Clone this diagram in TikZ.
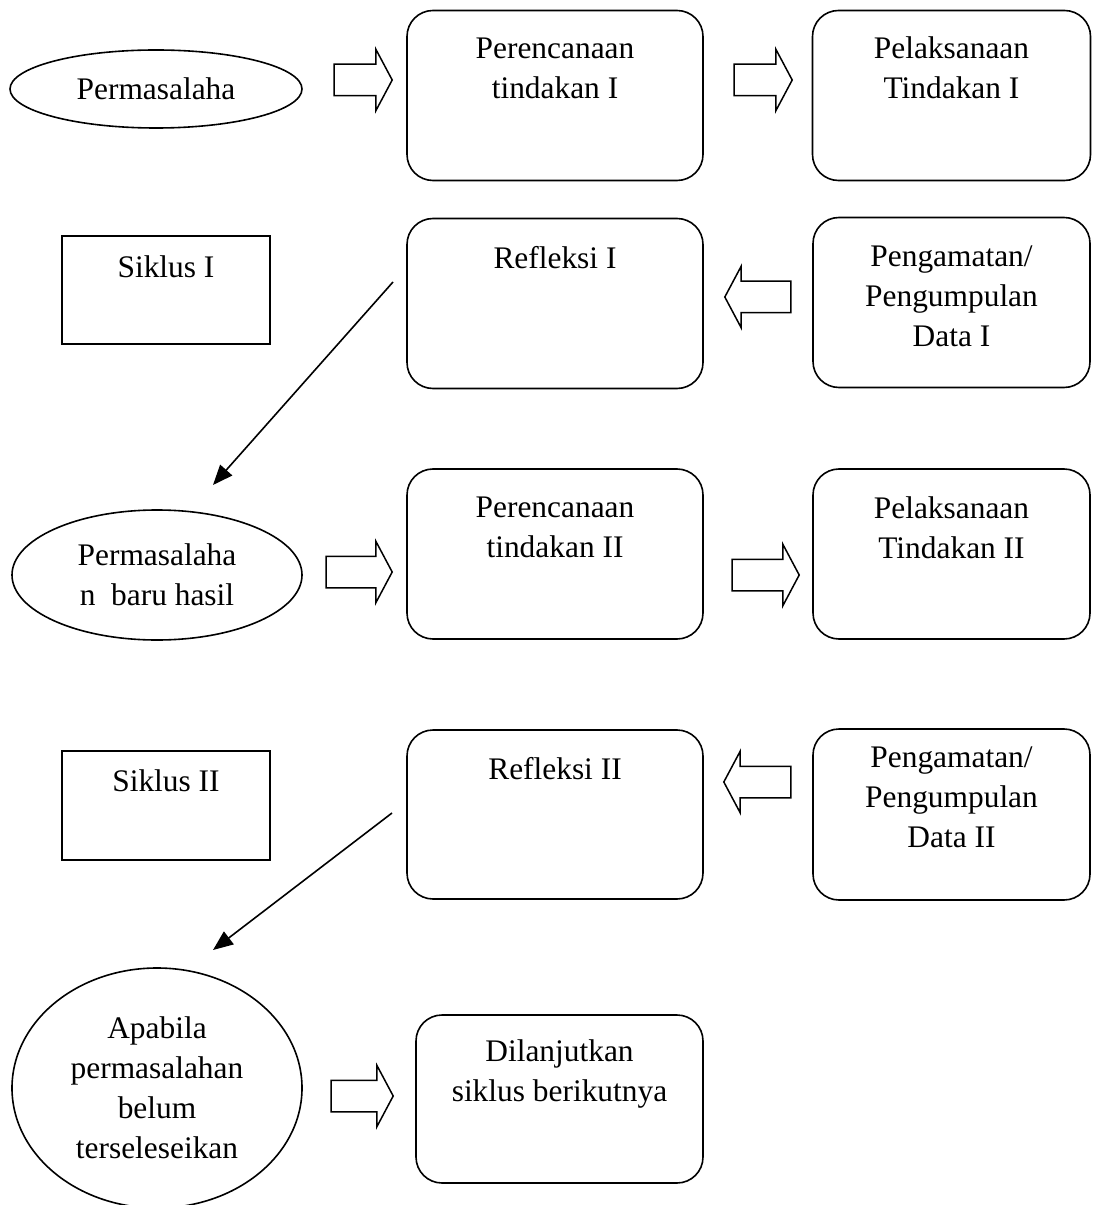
\documentclass[tikz,border=0pt]{standalone}
\usepackage{fontspec}
\setmainfont{Liberation Serif}
\usetikzlibrary{positioning,arrows.meta,shapes.geometric,shapes.arrows}
\tikzset{
  rbox/.style={draw,rounded corners=13bp,line width=0.8bp,inner sep=0pt,
    minimum width=148bp,minimum height=85bp},
  sbox/.style={draw,line width=0.8bp,inner sep=0pt,minimum width=104bp,minimum height=54bp},
  oval/.style={draw,ellipse,line width=0.8bp,inner sep=0pt,align=center},
  txt/.style={inner sep=0pt,align=center},
  blk/.style={draw,single arrow,line width=0.75bp,inner xsep=0pt,inner ysep=7.5bp,
    single arrow head extend=7.5bp,single arrow tip angle=124,minimum width=30bp},
  diag/.style={-{Triangle[length=10bp,width=8bp]},line width=0.8bp},
}
\begin{document}
\begin{tikzpicture}[x=0.5bp,y=-0.5bp,font=\fontsize{15.7bp}{20bp}\selectfont]
  \useasboundingbox (0,0) rectangle (1092,1205);

  % siklus I, baris atas
  \node[oval,minimum width=146bp,minimum height=39bp] (mas1) at (156,89) {Permasalaha};
  \node[blk,minimum height=29bp] (ar1) at (359,80) {};
  \node[rbox] (plan1) at (555,95.5) {};
  \node[txt,below=14bp of plan1.north] (plan1t) {Perencanaan\\tindakan I};
  \node[blk,minimum height=29bp] (ar2) at (759,80) {};
  \node[rbox,minimum width=139bp] (act1) at (951.5,95.5) {};
  \node[txt,below=13.5bp of act1.north] (act1t) {Pelaksanaan\\Tindakan I};

  % siklus I, baris bawah
  \node[sbox] (sik1) at (166,290) {};
  \node[txt,below=10bp of sik1.north] (sik1t) {Siklus I};
  \node[rbox] (refl1) at (555,303.5) {};
  \node[txt,below=14bp of refl1.north] (refl1t) {Refleksi I};
  \node[blk,shape border rotate=180,minimum height=33bp] (ar3) at (762,297) {};
  \node[rbox,minimum width=138.5bp] (obs1) at (951.5,302.5) {};
  \node[txt,below=14.5bp of obs1.north] (obs1t) {Pengamatan/\\Pengumpulan\\Data I};
  \coordinate (d1a) at (393,282);
  \coordinate (d1b) at (213,485);
  \draw[diag] (d1a) -- (d1b);

  % siklus II, baris atas
  \node[oval,minimum width=145bp,minimum height=65bp] (mas2) at (157,575) {Permasalaha\\n\ \ baru hasil};
  \node[blk,minimum height=33bp] (ar4) at (355,572) {};
  \node[rbox] (plan2) at (555,554) {};
  \node[txt,below=14bp of plan2.north] (plan2t) {Perencanaan\\tindakan II};
  \node[blk,minimum height=33.5bp] (ar5) at (761.5,575) {};
  \node[rbox,minimum width=138.5bp] (act2) at (951.5,554) {};
  \node[txt,below=14bp of act2.north] (act2t) {Pelaksanaan\\Tindakan II};

  % siklus II, baris bawah
  \node[sbox,minimum height=54.5bp] (sik2) at (166,805.5) {};
  \node[txt,below=9.5bp of sik2.north] (sik2t) {Siklus II};
  \node[rbox,minimum height=84.5bp] (refl2) at (555,814.5) {};
  \node[txt,below=14bp of refl2.north] (refl2t) {Refleksi II};
  \node[blk,shape border rotate=180,minimum height=33.5bp] (ar6) at (761.5,782) {};
  \node[rbox,minimum width=138.5bp,minimum height=85.5bp] (obs2) at (951.5,814.5) {};
  \node[txt,below=9bp of obs2.north] (obs2t) {Pengamatan/\\Pengumpulan\\Data II};
  \coordinate (d2a) at (392,813);
  \coordinate (d2b) at (213,950);
  \draw[diag] (d2a) -- (d2b);

  % lanjut
  \node[oval,minimum width=145bp,minimum height=120bp] (mas3) at (157,1088) {Apabila\\permasalahan\\belum\\terseleseikan};
  \node[blk,minimum height=31bp] (ar7) at (358,1096) {};
  \node[rbox,minimum width=143.5bp,minimum height=84bp] (next) at (559.5,1099) {};
  \node[txt,below=12.5bp of next.north] (nextt) {Dilanjutkan\\siklus berikutnya};
\end{tikzpicture}
\end{document}
